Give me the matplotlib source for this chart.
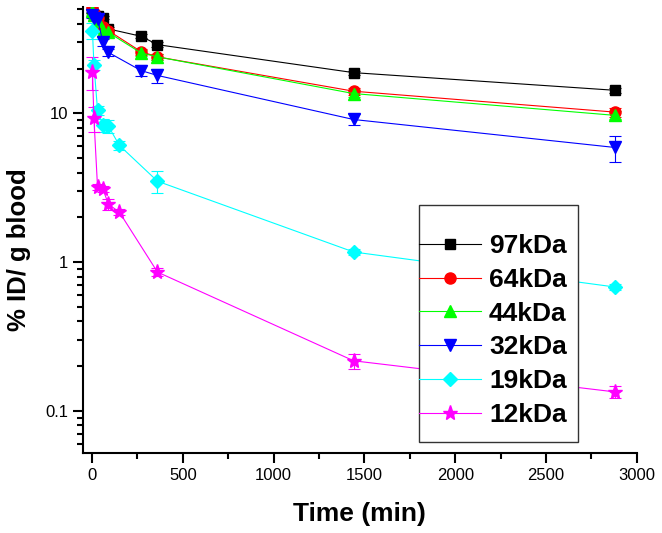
import matplotlib.pyplot as plt
from matplotlib.lines import Line2D
from matplotlib.patches import Rectangle
from matplotlib.ticker import FixedLocator, FixedFormatter, LogLocator, NullFormatter

plt.rcParams["font.family"] = ["Liberation Sans", "DejaVu Sans"]

# sampling times (min)
t_large = [2, 10, 30, 60, 90, 270, 360, 1440, 2880]
t_small = [2, 10, 30, 60, 90, 150, 360, 1440, 2880]

labels = ["97kDa", "64kDa", "44kDa", "32kDa", "19kDa", "12kDa"]

kda97 = [49, 46, 45, 44, 37, 33, 29, 18.8, 14.3]
kda97_err = [1.5, 1.2, 1.0, 1.0, 1.0, 1.0, 1.0, 0.6, 0.5]
kda64 = [51, 47, 44, 38, 36, 26, 24, 14.1, 10.2]
kda64_err = [1.5, 1.5, 1.5, 1.2, 1.2, 1.2, 1.0, 0.8, 0.7]
kda44 = [49, 46, 42, 36, 35, 25.5, 24, 13.6, 9.7]
kda44_err = [1.5, 1.5, 1.5, 1.2, 1.2, 1.2, 1.0, 0.8, 0.6]
kda32 = [46, 44, 43, 30, 25.7, 19.4, 18, 9.1, 5.9]
kda32_err = [2.0, 2.0, 2.0, 1.5, 1.5, 1.6, 2.0, 0.8, 1.2]
kda19 = [36, 21.3, 10.5, 8.3, 8.2, 6.1, 3.5, 1.17, 0.68]
kda19_err = [4.5, 1.7, 0.7, 0.8, 0.8, 0.45, 0.6, 0.05, 0.03]
kda12 = [19.1, 9.26, 3.19, 3.09, 2.45, 2.17, 0.857, 0.217, 0.134]
kda12_err = [4.7, 1.8, 0.15, 0.15, 0.22, 0.1, 0.05, 0.025, 0.012]

series = [
    (t_large, kda97, kda97_err, "black", "s", 7),
    (t_large, kda64, kda64_err, "#ff0000", "o", 8),
    (t_large, kda44, kda44_err, "#00ff00", "^", 9),
    (t_large, kda32, kda32_err, "#0000ff", "v", 9),
    (t_small, kda19, kda19_err, "#00ffff", "D", 7),
    (t_small, kda12, kda12_err, "#ff00ff", "*", 11),
]

fig = plt.figure(figsize=(6.62, 5.33), dpi=100)
ax = fig.add_axes([0.1254, 0.150, 0.8366, 0.837])

handles = []
for (t, y, err, color, marker, ms), label in zip(series, labels):
    ax.errorbar(
        t,
        y,
        yerr=err,
        color=color,
        marker=marker,
        markersize=ms,
        linewidth=0.8,
        elinewidth=0.8,
        capsize=4,
        capthick=0.8,
    )
    handles.append(
        Line2D([], [], color=color, marker=marker, markersize=ms, linewidth=0.8, label=label)
    )

ax.set_yscale("log")
ax.set_xlim(-50, 3000)
ax.set_ylim(0.052, 52)

ax.yaxis.set_major_locator(FixedLocator([0.1, 1, 10]))
ax.yaxis.set_major_formatter(FixedFormatter(["0.1", "1", "10"]))
ax.yaxis.set_minor_locator(LogLocator(base=10, subs=range(2, 10)))
ax.yaxis.set_minor_formatter(NullFormatter())

ax.set_xticks([0, 500, 1000, 1500, 2000, 2500, 3000])
ax.set_xticks([250, 750, 1250, 1750, 2250, 2750], minor=True)

for side in ["top", "right"]:
    ax.spines[side].set_visible(False)
for side in ["left", "bottom"]:
    ax.spines[side].set_linewidth(1.5)

ax.tick_params(which="major", length=7, width=1.5, labelsize=12, direction="out")
ax.tick_params(which="minor", length=4, width=1.5, direction="out")

ax.set_xlabel("Time (min)", fontsize=19, fontweight="bold", labelpad=14)
ax.set_ylabel("% ID/ g blood", fontsize=18.5, fontweight="bold")
ax.yaxis.set_label_coords(-0.094, 0.455)

# legend box drawn separately so the entries can sit flush with its left edge
box = Rectangle(
    (419 / 662, 1 - 442 / 533),
    159 / 662,
    237 / 533,
    transform=fig.transFigure,
    facecolor="white",
    edgecolor="#333333",
    linewidth=1.0,
    zorder=5,
)
fig.patches.append(box)

leg = fig.legend(
    handles=handles,
    loc="upper left",
    bbox_to_anchor=(419 / 662, 1 - 234 / 533),
    numpoints=1,
    handlelength=2.35,
    handletextpad=0.3,
    labelspacing=0.37,
    borderpad=0,
    borderaxespad=0,
    frameon=False,
    prop={"size": 19, "weight": "bold"},
)
leg.set_zorder(6)

fig.savefig("out.png", dpi=100)
